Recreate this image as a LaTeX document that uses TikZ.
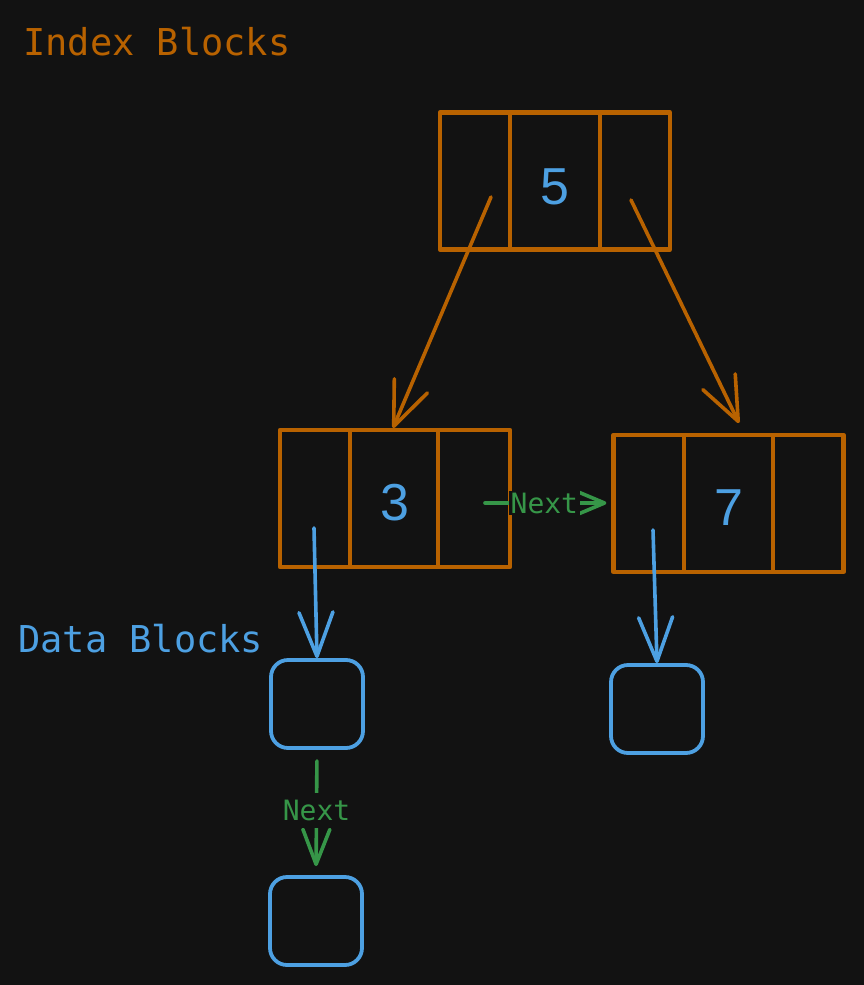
\documentclass[tikz,border=0pt]{standalone}
\usepackage{fontspec}
\setmainfont{DejaVu Sans}
\newfontfamily\monofam{DejaVu Sans Mono}
\newfontfamily\digitfam{Liberation Sans}
\usetikzlibrary{arrows.meta,calc}
\definecolor{bg}{HTML}{121212}
\definecolor{ora}{HTML}{B86200}
\definecolor{blu}{HTML}{4DA0E2}
\definecolor{grn}{HTML}{369648}
\tikzset{
  ibox/.style={draw=ora, line width=4.3pt, minimum width=230pt, minimum height=137pt, inner sep=0pt, line join=round},
  divider/.style={draw=ora, line width=4pt},
  dbox/.style={draw=blu, line width=3.8pt, rounded corners=17pt, minimum width=92pt, minimum height=88pt, inner sep=0pt},
  digit/.style={text=blu, font=\digitfam\fontsize{52}{52}\selectfont, inner sep=0pt},
  title/.style={font=\monofam\fontsize{37}{37}\selectfont, inner sep=0pt},
  nextlbl/.style={text=grn, fill=bg, font=\monofam\fontsize{28}{28}\selectfont, inner sep=2pt},
  oarr/.style={draw=ora, line width=3.6pt, line cap=round, -{Straight Barb[length=44pt,width=36pt,round]}},
  barr/.style={draw=blu, line width=3.6pt, line cap=round, -{Straight Barb[length=44pt,width=34pt,round]}},
  garr/.style={draw=grn, line width=3.6pt, line cap=round},
}
\begin{document}
\begin{tikzpicture}[x=1pt,y=-1pt]
\fill[bg] (0,0) rectangle (864,985);
\useasboundingbox (0,0) rectangle (864,985);

% titles
\node[title, text=ora, anchor=base west] (tidx) at (23,55) {Index Blocks};
\node[title, text=blu, anchor=base west] (tdat) at (18,652) {Data Blocks};

% index blocks
\node[ibox] (b5) at (555,181) {};
\node[ibox] (b3) at (395,498.5) {};
\node[ibox] (b7) at (728.5,503.5) {};

\foreach \b/\f in {b5/0.309, b5/0.691, b3/0.307, b3/0.684, b7/0.312, b7/0.688} {
  \draw[divider] ($(\b.north west)!\f!(\b.north east)$) -- ($(\b.south west)!\f!(\b.south east)$);
}

\node[digit] (n5) at (555,187) {5};
\node[digit] (n3) at (395,503) {3};
\node[digit] (n7) at (729,508) {7};

% data blocks
\node[dbox] (d1) at (317,704) {};
\node[dbox] (d2) at (657,709) {};
\node[dbox] (d3) at (316,921) {};

% connector end points
\coordinate (s5l) at (491,197);
\coordinate (s5r) at (631,200);
\coordinate (t3) at (393,428);
\coordinate (t7) at (739,423);
\coordinate (s3) at (314,528);
\coordinate (s7) at (653,530);
\coordinate (g1) at (485,503);

% orange arrows
\draw[oarr] (s5l) -- (t3);
\draw[oarr] (s5r) -- (t7);

% blue arrows
\draw[barr] (s3) -- (d1.north);
\draw[barr] (s7) -- (d2.north);

% green next arrows
\draw[garr, -{Straight Barb[length=25pt,width=21pt,round]}, shorten >=5pt] (g1) -- (b7.west |- g1) node[nextlbl, pos=0.47] (nx1) {Next};
\draw[garr, -{Straight Barb[length=35pt,width=27pt,round]}, shorten <=11pt, shorten >=9pt] (d1.south) -- (d3.north) node[nextlbl, pos=0.485, inner xsep=3pt, inner ysep=7pt] (nx2) {Next};
\end{tikzpicture}
\end{document}
